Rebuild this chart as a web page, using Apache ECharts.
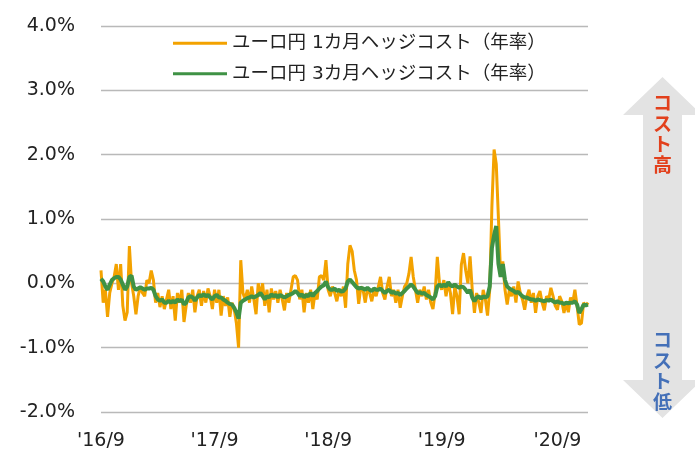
<!DOCTYPE html>
<html>
<head>
<meta charset="utf-8">
<script src="https://cdn.jsdelivr.net/npm/echarts@6/dist/echarts.min.js"></script>
<style>
  html, body { margin: 0; padding: 0; background: #fff; }
  #chart { width: 695px; height: 455px; }
</style>
</head>
<body>
<div id="chart"></div>
<script>
// 週次データ（2016/9/5 〜）
var startDate = Date.UTC(2016, 8, 5);
var weekCount = 224;
var dates = [];
for (var i = 0; i < weekCount; i++) {
    var d = new Date(startDate + i * 7 * 864e5);
    dates.push(d.getUTCFullYear() + '/' + (d.getUTCMonth() + 1) + '/' + d.getUTCDate());
}

var seriesNames = ['ユーロ円 1カ月ヘッジコスト（年率）', 'ユーロ円 3カ月ヘッジコスト（年率）'];

// 1カ月ヘッジコスト（%）
var hedge1m = [
    0.2, -0.3, -0.1, -0.52, -0.15, 0.0, 0.1, 0.3, -0.1, 0.3,
    -0.35, -0.58, -0.45, 0.58, 0.0, -0.2, -0.48, -0.2, -0.05, -0.15,
    -0.2, 0.05, 0.0, 0.2, 0.05, -0.3, -0.15, -0.37, -0.2, -0.4,
    -0.25, -0.1, -0.4, -0.2, -0.58, -0.15, -0.3, -0.1, -0.6, -0.35,
    -0.15, -0.3, -0.1, -0.45, -0.2, -0.1, -0.35, -0.12, -0.3, -0.08,
    -0.2, -0.4, -0.1, -0.3, -0.1, -0.5, -0.2, -0.35, -0.22, -0.52,
    -0.3, -0.4, -0.62, -1.0, 0.36, -0.15, -0.25, -0.1, -0.3, -0.05,
    -0.25, -0.48, 0.0, -0.2, 0.0, -0.35, -0.1, -0.45, -0.08, -0.25,
    -0.12, -0.3, -0.1, -0.25, -0.42, -0.15, -0.3, -0.1, 0.1, 0.12,
    0.05, -0.25, -0.1, -0.45, -0.15, -0.3, -0.1, -0.4, -0.15, -0.25,
    0.1, 0.12, 0.05, 0.36, -0.1, -0.2, -0.05, -0.15, -0.28, -0.1,
    -0.2, -0.05, -0.38, 0.3, 0.59, 0.5, 0.2, 0.05, -0.32, -0.05,
    -0.1, -0.3, -0.08, -0.15, -0.28, -0.1, -0.2, -0.05, 0.1, -0.15,
    -0.25, -0.05, 0.1, -0.2, -0.1, -0.3, -0.1, -0.38, -0.2, -0.05,
    0.0, 0.15, 0.41, 0.1, -0.1, -0.3, -0.1, -0.2, -0.05, -0.25,
    -0.1, -0.3, -0.4, -0.15, 0.41, 0.0, -0.1, 0.05, -0.2, 0.02,
    -0.15, -0.48, -0.05, -0.2, -0.48, 0.29, 0.47, 0.2, 0.0, 0.42,
    -0.1, -0.46, -0.15, -0.3, -0.46, -0.1, -0.25, -0.5, -0.1, 1.2,
    2.08, 1.85, 1.0, 0.1, 0.34, -0.1, -0.33, -0.1, -0.2, -0.05,
    -0.3, 0.03, -0.15, -0.25, -0.41, -0.2, -0.1, -0.3, -0.15, -0.46,
    -0.2, -0.12, -0.3, -0.42, -0.2, -0.25, -0.07, -0.2, -0.35, -0.41,
    -0.2, -0.28, -0.46, -0.3, -0.45, -0.22, -0.3, -0.1, -0.35, -0.64,
    -0.62, -0.3, -0.35, -0.3
];

// 3カ月ヘッジコスト（%）
var hedge3m = [
    0.07, 0.03, -0.05, -0.1, -0.02, 0.05, 0.08, 0.1, 0.1, 0.06,
    -0.02, -0.1, -0.05, 0.1, 0.12, -0.05, -0.1, -0.08, -0.06, -0.08,
    -0.1, -0.08, -0.08, -0.07, -0.1, -0.2, -0.25, -0.27, -0.25, -0.3,
    -0.3, -0.27, -0.3, -0.27, -0.3, -0.25, -0.28, -0.25, -0.33, -0.3,
    -0.22, -0.2, -0.22, -0.27, -0.22, -0.18, -0.2, -0.17, -0.2, -0.18,
    -0.22, -0.25, -0.2, -0.18, -0.22, -0.22, -0.25, -0.27, -0.3, -0.32,
    -0.33, -0.38, -0.45, -0.55, -0.3, -0.27, -0.25, -0.23, -0.22, -0.2,
    -0.22, -0.2, -0.18, -0.15, -0.2, -0.25, -0.2, -0.22, -0.17, -0.2,
    -0.18, -0.22, -0.18, -0.2, -0.22, -0.2, -0.18, -0.17, -0.15, -0.12,
    -0.15, -0.2, -0.17, -0.22, -0.18, -0.2, -0.15, -0.2, -0.15, -0.12,
    -0.08, -0.05, -0.03, 0.03, -0.06, -0.1, -0.1, -0.08, -0.12, -0.1,
    -0.13, -0.12, -0.08, 0.03, 0.06, 0.02, -0.02, -0.06, -0.08, -0.07,
    -0.08, -0.1, -0.07, -0.1, -0.12, -0.08, -0.1, -0.1, -0.08, -0.12,
    -0.15, -0.12, -0.1, -0.15, -0.13, -0.16, -0.15, -0.18, -0.15, -0.12,
    -0.08, -0.05, -0.02, -0.05, -0.1, -0.15, -0.14, -0.16, -0.15, -0.18,
    -0.2, -0.22, -0.25, -0.2, -0.05, -0.02, -0.05, -0.02, -0.05, 0.02,
    -0.03, -0.05, -0.02, -0.05, -0.07, -0.05, -0.06, -0.1, -0.15, -0.1,
    -0.22, -0.28, -0.22, -0.2, -0.24, -0.2, -0.22, -0.2, -0.05, 0.55,
    0.75, 0.89, 0.3, 0.1, 0.3, 0.05, -0.05, -0.08, -0.1, -0.12,
    -0.15, -0.13, -0.17, -0.2, -0.22, -0.22, -0.24, -0.25, -0.25, -0.27,
    -0.25, -0.26, -0.27, -0.28, -0.26, -0.27, -0.25, -0.28, -0.3, -0.28,
    -0.3, -0.3, -0.32, -0.3, -0.31, -0.3, -0.3, -0.28, -0.33, -0.46,
    -0.4, -0.33, -0.34, -0.33
];

var yMin = -2, yMax = 4, yStep = 1;

// 9月の最初の週にだけラベルを出す
function isSeptemberTick(value) {
    var p = value.split('/');
    return p[1] === '9' && +p[2] <= 7;
}

var font = '"DejaVu Sans", "Noto Sans CJK JP", sans-serif';

var option = {
    animation: false,
    backgroundColor: '#fff',
    grid: { left: 101, right: 107, top: 26, bottom: 43 },
    legend: {
        orient: 'vertical',
        left: 173,
        top: 34,
        padding: 0,
        itemWidth: 54,
        itemHeight: 3,
        itemGap: 12,
        icon: 'rect',
        textStyle: { fontSize: 18.5, color: '#222', fontFamily: font },
        data: seriesNames
    },
    xAxis: {
        type: 'category',
        data: dates,
        boundaryGap: false,
        axisLine: { show: false },
        axisTick: { show: false },
        splitLine: { show: false },
        axisLabel: {
            interval: function (idx, value) { return isSeptemberTick(value); },
            formatter: function (value) {
                var p = value.split('/');
                return "'" + p[0].slice(2) + '/' + p[1];
            },
            fontSize: 19,
            color: '#222',
            fontFamily: font,
            margin: 20
        }
    },
    yAxis: {
        type: 'value',
        min: yMin,
        max: yMax,
        interval: yStep,
        axisLine: { show: false },
        axisTick: { show: false },
        splitLine: { lineStyle: { color: '#b9b9b9', width: 1.3 } },
        axisLabel: {
            formatter: function (v) { return v.toFixed(1) + '%'; },
            fontSize: 19,
            color: '#222',
            fontFamily: font,
            margin: 26
        }
    },
    series: [{
        name: seriesNames[0],
        type: 'line',
        data: hedge1m,
        showSymbol: false,
        symbol: 'none',
        itemStyle: { color: '#f3a200' },
        lineStyle: { color: '#f3a200', width: 3 }
    }, {
        name: seriesNames[1],
        type: 'line',
        data: hedge3m,
        showSymbol: false,
        symbol: 'none',
        itemStyle: { color: '#3f9245' },
        lineStyle: { color: '#3f9245', width: 4 }
    }],
    graphic: [{
        type: 'polygon',
        shape: {
            points: [
                [662.5, 77], [702, 115], [682, 115], [682, 380], [702, 380],
                [662.5, 418], [623, 380], [643, 380], [643, 115], [623, 115]
            ]
        },
        style: { fill: '#e3e3e3' },
        z: 0
    }, {
        type: 'text',
        x: 662.5,
        y: 93,
        style: {
            text: 'コ\nス\nト\n高',
            align: 'center',
            verticalAlign: 'top',
            fill: '#e2401c',
            font: 'bold 19px "Noto Sans CJK JP"',
            lineHeight: 20.5
        },
        z: 1
    }, {
        type: 'text',
        x: 662.5,
        y: 330,
        style: {
            text: 'コ\nス\nト\n低',
            align: 'center',
            verticalAlign: 'top',
            fill: '#4470b8',
            font: 'bold 19px "Noto Sans CJK JP"',
            lineHeight: 20.5
        },
        z: 1
    }]
};

var myChart = echarts.init(document.getElementById('chart'));
myChart.setOption(option);
</script>
</body>
</html>
